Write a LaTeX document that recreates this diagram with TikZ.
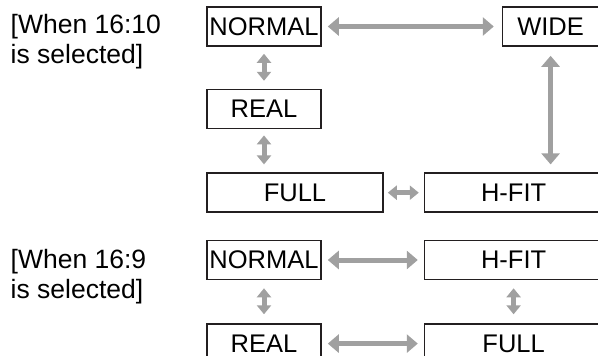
\documentclass[tikz,border=0pt]{standalone}
\usepackage{fontspec}
\setmainfont{Liberation Sans}
\usetikzlibrary{arrows.meta, positioning}

\definecolor{arrgray}{RGB}{160,160,160}
\definecolor{boxline}{RGB}{35,31,32}

\begin{document}
\begin{tikzpicture}[
  x=1pt, y=-1pt,
  mode/.style  = {draw=boxline, line width=1.6pt, rectangle, inner sep=0pt,
                  minimum height=39pt, font=\fontsize{25.5}{30}\selectfont},
  label/.style = {align=left, inner sep=0pt, anchor=north west,
                  font=\fontsize{26.5}{30}\selectfont},
  bigarr/.style   = {arrgray, line width=5pt,
                     {Triangle[length=11pt,width=18pt]}-{Triangle[length=11pt,width=18pt]}},
  smallarr/.style = {arrgray, line width=5pt,
                     {Triangle[length=9pt,width=14pt]}-{Triangle[length=9pt,width=14pt]}},
]
  \useasboundingbox (0,0) rectangle (598,356);

  % 16:10
  \node[label] (sel1) at (10.5,14) {[When 16:10\\is selected]};
  \node[mode, minimum width=114pt] (n1) at (264,26.5) {NORMAL};
  \node[mode, minimum width=96pt, right=180pt of n1]  (w1) {WIDE};
  \node[mode, minimum width=114pt, below=42pt of n1] (r1) {REAL};
  \node[mode, minimum width=176pt, below=43pt of r1.south west, anchor=north west] (f1) {FULL};
  \node[mode, minimum width=178pt, right=40pt of f1] (h1) {H-FIT};

  \draw[bigarr, shorten <=6pt, shorten >=8pt] (n1) -- (w1);
  \draw[smallarr, shorten <=7pt, shorten >=8pt] (n1) -- (r1);
  \draw[smallarr, shorten <=6pt, shorten >=8pt] (r1.south) -- (r1.south |- f1.north);
  \draw[bigarr, shorten <=9pt, shorten >=8pt] (w1.south) -- (w1.south |- h1.north);
  \draw[smallarr, shorten <=4pt, shorten >=5pt] (f1) -- (h1);

  % 16:9
  \node[label] (sel2) at (10.5,249) {[When 16:9\\is selected]};
  \node[mode, minimum width=114pt] (n2) at (264,260) {NORMAL};
  \node[mode, minimum width=178pt, right=102pt of n2] (h2) {H-FIT};
  \node[mode, minimum width=114pt, below=43pt of n2] (r2) {REAL};
  \node[mode, minimum width=178pt, right=102pt of r2] (f2) {FULL};

  \draw[bigarr, shorten <=6pt, shorten >=6pt] (n2) -- (h2);
  \draw[bigarr, shorten <=6pt, shorten >=6pt] (r2) -- (f2);
  \draw[smallarr, shorten <=8pt, shorten >=9pt] (n2) -- (r2);
  \draw[smallarr, shorten <=8pt, shorten >=9pt] (h2) -- (f2);
\end{tikzpicture}
\end{document}
